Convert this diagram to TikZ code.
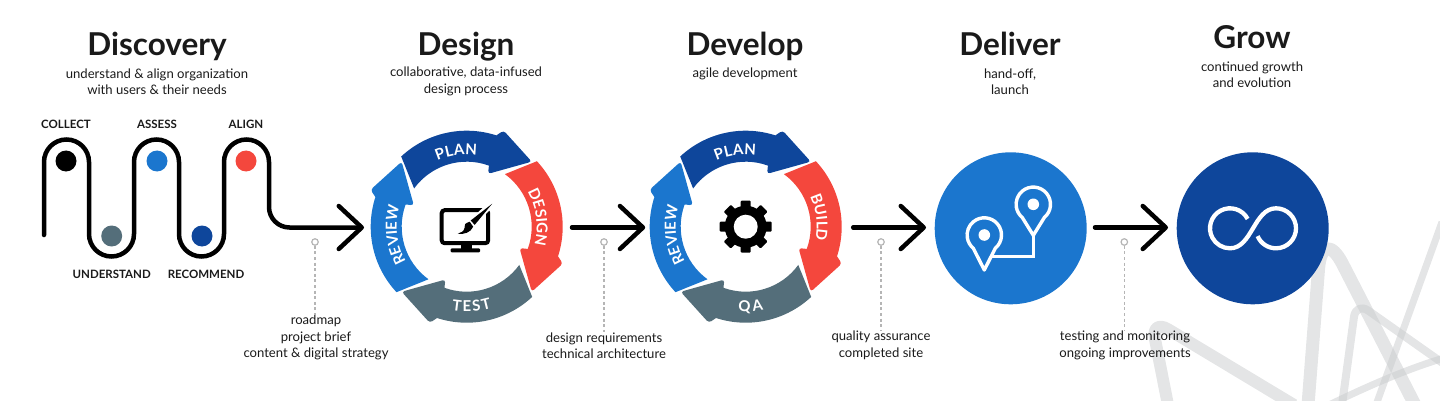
\documentclass[tikz,border=0pt]{standalone}
\usepackage{fontspec}
\setmainfont{Lato}
\usetikzlibrary{arrows.meta,decorations.text}
\definecolor{navy}{HTML}{0E469B}
\definecolor{bluec}{HTML}{1B76CE}
\definecolor{redc}{HTML}{F4473D}
\definecolor{slatec}{HTML}{546E7A}
\definecolor{inkc}{HTML}{1A1A1A}
\definecolor{logoc}{HTML}{C9CBCD}
\definecolor{leaderc}{HTML}{B5B5B5}
\newcommand{\ringfont}{\fontsize{15}{15}\selectfont\bfseries\color{white}}
\newcommand{\ringseg}[2]{%
  \begin{scope}[rotate=#1]
    \fill[#2] (133:96) arc[start angle=133,end angle=72,radius=96pt]
      [rounded corners=3pt] -- (69:103) -- (45:92) -- (68:57) [sharp corners] -- (70:65)
      arc[start angle=70,end angle=144,radius=65pt] -- cycle;
  \end{scope}}
\newcommand{\ringtext}[4]{% text, start angle, end angle, radius
  \path[decorate,decoration={text along path,text={|\ringfont|#1},text align={fit to path}}]
    (#2:#4) arc[start angle=#2,end angle=#3,radius=#4pt];}
\newcommand{\ringbase}{%
  \ringseg{0}{navy}\ringseg{-90}{redc}\ringseg{-180}{slatec}\ringseg{-270}{bluec}}
\newcommand{\pinshape}[2]{% centre, tip drop
  \begin{scope}[shift={(#1)},y=1pt]
    \draw[white,line width=3.4pt,line join=round] (-50:17.2)
      arc[start angle=-50,end angle=230,radius=17.2pt] -- (0,-#2) -- cycle;
    \fill[bluec] (-6,-12) -- (6,-12) -- (0,-#2+5) -- cycle;
    \fill[white] (0,0) circle[radius=5.8pt];
  \end{scope}}
\tikzset{
  title/.style={font=\fontsize{31.5}{33}\selectfont\bfseries,text=inkc,inner sep=0pt,anchor=base},
  sub/.style={font=\fontsize{13.1}{16.5}\selectfont,text=inkc,align=center,inner sep=0pt},
  note/.style={font=\fontsize{13.1}{16.5}\selectfont,text=inkc,align=center,inner sep=0pt},
  tag/.style={font=\fontsize{11.5}{14}\selectfont\bfseries,text=inkc,inner sep=0pt},
  dot/.style={circle,minimum size=21pt,inner sep=0pt},
  ringhold/.style={circle,minimum size=206pt,inner sep=0pt,outer sep=0pt},
  bigdisc/.style={circle,minimum size=152pt,inner sep=0pt,outer sep=8.7pt},
  flow/.style={line width=4.5pt,line cap=round,-{Straight Barb[length=23pt,width=43pt,round]}},
  leaderdot/.style={circle,draw=leaderc,fill=white,line width=1.2pt,minimum size=6.5pt,inner sep=0pt},
  leader/.style={draw=leaderc,line width=1.1pt,dash pattern=on 3pt off 2.6pt},
  logostroke/.style={draw=logoc,draw opacity=.5,line join=round}
}
\begin{document}
\begin{tikzpicture}[x=1pt,y=-1pt]
\useasboundingbox (0,0) rectangle (1440,401);
% background logo
\draw[logostroke,line width=12pt,rounded corners=20pt] (1168,405) -- (1151,319) -- (1294,405);
\draw[logostroke,line width=13pt,rounded corners=45pt] (1308,405) -- (1322,224) -- (1415,405);
\draw[logostroke,line width=8pt,rounded corners=15pt] (1342,405) -- (1356,302) -- (1444,364);
\draw[logostroke,line width=7pt] (1329,405) .. controls (1370,385) and (1410,368) .. (1444,358);
\draw[logostroke,line width=7pt] (1442,222) -- (1376,405);
% holders for the rings
\node[ringhold] (ringA) at (467,227.5) {};
\node[ringhold,minimum size=201pt] (ringB) at (745.7,227.5) {};
% titles
\node[title] (t1) at (157,56) {Discovery};
\node[title] (t2) at (466,56) {Design};
\node[title] (t3) at (745,56) {Develop};
\node[title] (t4) at (1010,56) {Deliver};
\node[title] (t5) at (1252,49) {Grow};
\node[sub] (s1) at (157,81.5) {understand \& align organization\\with users \& their needs};
\node[sub] (s2) at (466,81.5) {collaborative, data-infused\\design process};
\node[sub] (s3) at (745,73.5) {agile development};
\node[sub] (s4) at (1010,81.5) {hand-off,\\launch};
\node[sub] (s5) at (1252,74.5) {continued growth\\and evolution};
% serpentine
\node[tag] (l1) at (66,124.5) {COLLECT};
\node[tag] (l2) at (157,124.5) {ASSESS};
\node[tag] (l3) at (246,124.5) {ALIGN};
\node[tag] (l4) at (111.7,274) {UNDERSTAND};
\node[tag] (l5) at (206,274) {RECOMMEND};
\node[dot,fill=black] (d1) at (66,161) {};
\node[dot,fill=bluec] (d2) at (157,161) {};
\node[dot,fill=redc] (d3) at (246,161) {};
\node[dot,fill=slatec] (d4) at (111.7,236) {};
\node[dot,fill=navy] (d5) at (202,236) {};
\coordinate (snake) at (44,235);
\draw[flow] (snake) -- (44,162) arc[start angle=180,end angle=0,radius=22.5pt]
  -- (89,234) arc[start angle=180,end angle=360,radius=22.5pt]
  -- (134,162) arc[start angle=180,end angle=0,radius=22.5pt]
  -- (179,234) arc[start angle=180,end angle=360,radius=22.5pt]
  -- (224,162) arc[start angle=180,end angle=0,radius=22.5pt]
  -- (269,207) arc[start angle=180,end angle=270,radius=20.5pt] -- (ringA.west);
% ring one
\begin{scope}[shift={(466.7,226.7)},y=1pt]
  \ringbase
  \ringtext{PLAN}{114}{82}{72}
  \ringtext{DESIGN}{30}{-14}{70}
  \ringtext{REVIEW}{210}{164}{70}
  \ringtext{TEST}{-100}{-73}{85}
  % monitor
  \draw[black,line width=4pt,rounded corners=3pt] (-25,-16.5) rectangle (21.5,16.5);
  \fill[black] (-6,-18) rectangle (5,-23);
  \fill[black,rounded corners=1pt] (-16,-21.7) rectangle (13.3,-25.7);
  \draw[white,line width=6.5pt] (27,24.5) -- (7,6);
  \fill[black] (25.5,23) -- (4,6.2) -- (8,1.8) -- cycle;
  \fill[black] (3,5) .. controls (-2,3) .. (-2,-1) .. controls (-3,-5) and (-6,-6) .. (-9,-7)
    .. controls (-3,-8) and (4,-6) .. (6.5,0) -- cycle;
\end{scope}
% ring two
\begin{scope}[shift={(745.7,226.7)},y=1pt]
  \ringbase
  \ringtext{PLAN}{114}{82}{72}
  \ringtext{BUILD}{25}{-9}{71}
  \ringtext{REVIEW}{210}{164}{70}
  \ringtext{QA}{-95}{-78}{85}
  % gear
  \fill[black] (0,0) circle[radius=21pt];
  \foreach \a in {0,45,...,315}
    \fill[black,rotate=\a,rounded corners=1pt] (-5,15) rectangle (5,26);
  \fill[white] (0,0) circle[radius=12pt];
\end{scope}
% discs
\node[bigdisc,fill=bluec] (deliver) at (1010.7,228.3) {};
\node[bigdisc,fill=navy] (grow) at (1252.7,228.3) {};
% deliver icon
\pinshape{984.3,235}{35}
\pinshape{1033.3,204.3}{31}
\draw[white,line width=3pt] (1033.3,235) -- (1033.3,256.7) -- (990,256.7);
% grow icon
\begin{scope}[shift={(1253,228.3)},y=1pt]
  \draw[white,line width=4.3pt] (-23,0)++(28:20) arc[start angle=28,end angle=270,radius=20pt]
    .. controls (-1,-20) and (1,20) .. (23,20)
    arc[start angle=90,end angle=-157,radius=20pt];
\end{scope}
% connectors
\coordinate (c2) at ([xshift=2pt]ringA.east);
\draw[flow] (c2) -- (c2 -| ringB.west);
\coordinate (c3) at ([xshift=7pt]ringB.east);
\draw[flow] (c3) -- (c3 -| deliver.west);
\coordinate (c4) at ([xshift=-.4pt,yshift=.8pt]deliver.east);
\draw[flow] (c4) -- (c4 -| grow.west);
% notes
\node[note] (n1) at (316,337.5) {roadmap\\project brief\\content \& digital strategy};
\node[note] (n2) at (604,345.5) {design requirements\\technical architecture};
\node[note] (n3) at (881,345.5) {quality assurance\\completed site};
\node[note] (n4) at (1125,345.5) {testing and monitoring\\ongoing improvements};
\foreach \n/\x in {1/315,2/604,3/881,4/1124.3}{
  \node[leaderdot] (p\n) at (\x,242) {};
  \draw[leader] (p\n) -- (p\n |- n\n.north);
}
\end{tikzpicture}
\end{document}
